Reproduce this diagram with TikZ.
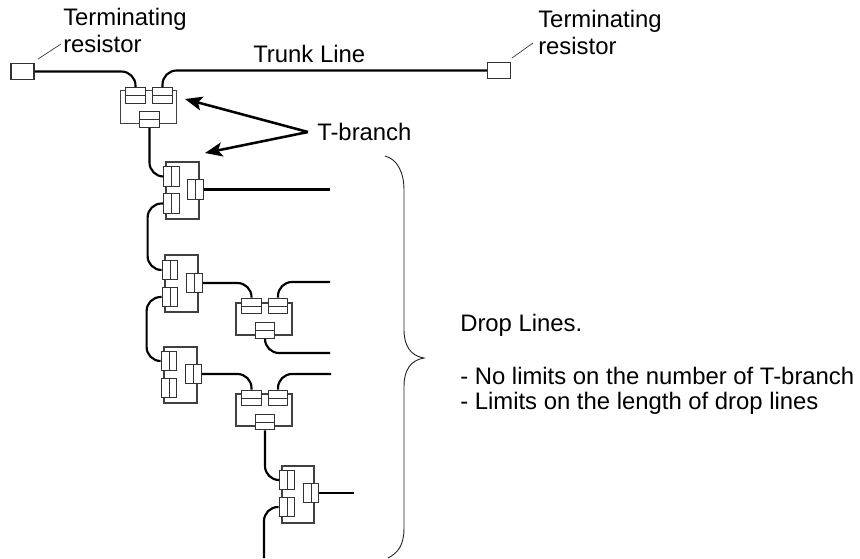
\documentclass[tikz,border=0pt]{standalone}
\usepackage{fontspec}
\setmainfont{Liberation Sans}
\usetikzlibrary{arrows.meta}
\def\px{0.75pt}
\tikzset{
  x=\px,y=-\px,
  body/.style={draw=black!75,line width=0.95pt,rectangle,inner sep=0pt,minimum width=#1*\px},
  bodyh/.style={minimum height=#1*\px},
  hconn/.style={draw=black!80,fill=white,line width=0.95pt,rectangle,inner sep=0pt,minimum width=19.5*\px,minimum height=15.5*\px,
    path picture={\draw[line width=\px,black!80] (path picture bounding box.west) -- (path picture bounding box.east);}},
  vconn/.style={draw=black!80,fill=white,line width=0.95pt,rectangle,inner sep=0pt,minimum width=15.5*\px,minimum height=19.5*\px,
    path picture={\draw[line width=\px,black!80] (path picture bounding box.north) -- (path picture bounding box.south);}},
  resbox/.style={draw=black!80,fill=white,line width=0.95pt,rectangle,inner sep=0pt,minimum width=23*\px,minimum height=16*\px},
  wire/.style={line width=1.6pt,rounded corners=14*\px},
  leader/.style={line width=0.5pt,black!80},
  txt/.style={font=\fontsize{17.9pt}{20pt}\selectfont,inner sep=0pt,anchor=base west,align=left},
  callout/.style={line width=1.9pt,-{Stealth[length=13pt,width=10.5pt,inset=3pt]}},
  bracket/.style={line width=0.7pt,black!85}
}
\begin{document}
\begin{tikzpicture}
\useasboundingbox (0,0) rectangle (860,558);
% T bodies
\node[body=56,bodyh=32.5] (b1) at (148.5,107) {};
\node[body=33,bodyh=57] (b2) at (182.5,190.5) {};
\node[body=33,bodyh=57] (b3) at (181.5,283.5) {};
\node[body=56,bodyh=32] (b4) at (264,319) {};
\node[body=33,bodyh=56] (b5) at (180.5,375) {};
\node[body=56,bodyh=32] (b6) at (264,410) {};
\node[body=32,bodyh=57] (b7) at (298,494.5) {};
% connectors
\node[hconn] (t1a) at (135.5,95.5) {};
\node[hconn] (t1b) at (162.5,95.5) {};
\node[hconn] (t1c) at (149.5,119.5) {};
\node[vconn] (t2a) at (171.5,176.5) {};
\node[vconn] (t2b) at (171.5,203.5) {};
\node[vconn] (t2c) at (195.5,189.5) {};
\node[vconn] (t3a) at (170,270) {};
\node[vconn] (t3b) at (170,297) {};
\node[vconn] (t3c) at (194.5,283) {};
\node[hconn] (t4a) at (251.5,306) {};
\node[hconn] (t4b) at (278,306) {};
\node[hconn] (t4c) at (265,330.5) {};
\node[vconn] (t5a) at (169,361) {};
\node[vconn] (t5b) at (169,388) {};
\node[vconn] (t5c) at (193.5,374) {};
\node[hconn] (t6a) at (251.5,398) {};
\node[hconn] (t6b) at (278,398) {};
\node[hconn] (t6c) at (265,422) {};
\node[vconn] (t7a) at (287,480) {};
\node[vconn] (t7b) at (287,507) {};
\node[vconn] (t7c) at (311,493) {};
% resistors
\node[resbox] (r1) at (22.5,71.5) {};
\node[resbox] (r2) at (499,70.5) {};
% free ends
\coordinate (e2) at (330,189.5);
\coordinate (e4a) at (330,282);
\coordinate (e4c) at (330,353);
\coordinate (e6b) at (331,374);
\coordinate (e7c) at (354,493);
\coordinate (e7b) at (264,558);
% wires
\draw[wire] (r1.east) -| (t1a.north);
\draw[wire] (r2.west) -| (t1b.north);
\draw[wire] (t1c.south) |- (t2a.west);
\draw[wire] (t2c.east) -- (e2);
\draw[wire] (t2b.west) -- ++(-15.5,0) |- (t3a.west);
\draw[wire] (t3c.east) -| (t4a.north);
\draw[wire] (t4b.north) |- (e4a);
\draw[wire] (t4c.south) |- (e4c);
\draw[wire] (t3b.west) -- ++(-15,0) |- (t5a.west);
\draw[wire] (t5c.east) -| (t6a.north);
\draw[wire] (t6b.north) |- (e6b);
\draw[wire] (t6c.south) |- (t7a.west);
\draw[wire] (t7c.east) -- (e7c);
\draw[wire] (t7b.west) -| (e7b);
% texts
\node[txt] (term1) at (63,25) {Terminating};
\node[txt] (res1) at (63,52) {resistor};
\node[txt] (term2) at (538,27) {Terminating};
\node[txt] (res2) at (538,54) {resistor};
\node[txt] (trunk) at (253,62) {Trunk Line};
\node[txt] (tb) at (317,140) {T-branch};
\node[txt] (drop) at (460,331) {Drop Lines.};
\node[txt] (d1) at (460,384) {- No limits on the number of T-branch};
\node[txt] (d2) at (460,409) {- Limits on the length of drop lines};
% leaders
\coordinate (l1a) at (61,44);
\coordinate (l1b) at (38,59);
\coordinate (l2a) at (533,43);
\coordinate (l2b) at (512,58);
\draw[leader] (l1a) -- (l1b);
\draw[leader] (l2a) -- (l2b);
% callouts
\coordinate (tbj) at (308,132);
\draw[callout] (tbj) -- (185,99);
\draw[callout] (tbj) -- (205,153);
% brace
\coordinate (bt) at (385,156);
\coordinate (btip) at (424,358);
\coordinate (bb) at (388,558);
\draw[bracket] (bt) .. controls (397,159) and (404,172) .. (404,190) -- (404,330)
  .. controls (404,346) and (411,356) .. (btip)
  .. controls (411,360) and (404,370) .. (404,386) -- (404,528)
  .. controls (404,545) and (398,553) .. (bb);
\end{tikzpicture}
\end{document}
